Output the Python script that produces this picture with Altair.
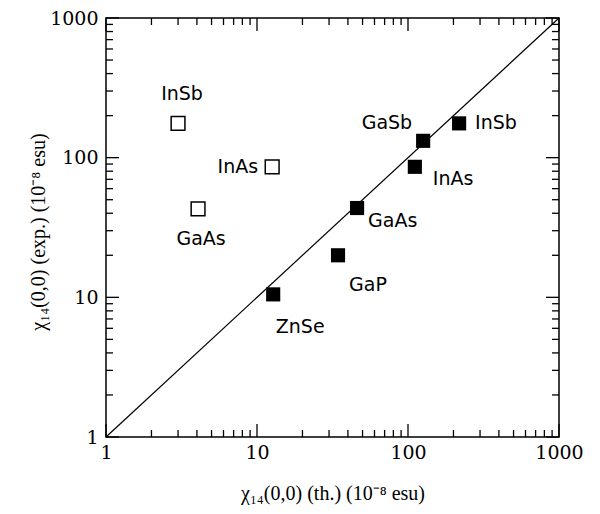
import altair as alt
import pandas as pd

# data
open_names = ["InSb", "InAs", "GaAs"]
open_th = [3.0, 12.6, 4.07]
open_exp = [176, 86, 43]

filled_names = ["InSb", "GaSb", "InAs", "GaAs", "GaP", "ZnSe"]
filled_th = [218, 126, 111, 46, 34.4, 12.8]
filled_exp = [176, 132, 86, 43.6, 20, 10.5]

line_x = [1, 1000]
line_y = [1, 1000]

major_ticks = [1, 10, 100, 1000]
minor_ticks = [m * d for d in [1, 10, 100] for m in range(2, 10)]
axis_lo, axis_hi = 1, 1000

W, H = 453, 419
MAJ, MIN = 13, 7
LABEL_FONT = "DejaVu Sans"
AX_FONT = "DejaVu Serif"
TITLE_FONT = "Liberation Serif"

df_open = pd.DataFrame({"name": open_names, "th": open_th, "exp": open_exp})
df_fill = pd.DataFrame({"name": filled_names, "th": filled_th, "exp": filled_exp})
df_line = pd.DataFrame({"th": line_x, "exp": line_y})

xs = alt.Scale(type="log", domain=[1, 1000], nice=False)
ys = alt.Scale(type="log", domain=[1, 1000], nice=False)

main = alt.Chart(df_line).mark_line(color="black", strokeWidth=1.2).encode(
    x=alt.X("th:Q", scale=xs, axis=alt.Axis(
        orient="bottom", values=major_ticks, format="d", ticks=False, domain=False, grid=False,
        labelFont=AX_FONT, labelFontSize=19, labelColor="black", labelPadding=6,
        title="χ₁₄(0,0) (th.) (10⁻⁸ esu)", titleFont=TITLE_FONT, titleFontSize=20,
        titleFontWeight="normal", titleColor="black", titleX=W / 2, titleY=46,
        labelFlush=False)),
    y=alt.Y("exp:Q", scale=ys, axis=alt.Axis(
        orient="left", values=major_ticks, format="d", ticks=False, domain=False, grid=False,
        labelFont=AX_FONT, labelFontSize=19, labelColor="black", labelPadding=8,
        title="χ₁₄(0,0) (exp.) (10⁻⁸ esu)", titleFont=TITLE_FONT, titleFontSize=20,
        titleFontWeight="normal", titleColor="black", titleX=-68, titleY=H / 2 + 4,
        titleBaseline="middle", labelFlush=False)),
)


def edge_ticks(values, length):
    """Inward tick marks drawn as stroked path symbols sitting on the frame edges."""
    n = len(values)
    sides = [
        (list(values), [axis_lo] * n, "M0,0V-2"),   # bottom, pointing up
        (list(values), [axis_hi] * n, "M0,0V2"),    # top, pointing down
        ([axis_lo] * n, list(values), "M0,0H2"),    # left, pointing right
        ([axis_hi] * n, list(values), "M0,0H-2"),   # right, pointing left
    ]
    out = []
    for tx, ty, shape in sides:
        d = pd.DataFrame({"th": tx, "exp": ty})
        out.append(
            alt.Chart(d).mark_point(shape=shape, size=length * length, filled=False,
                                    color="black", strokeWidth=1.3, opacity=1).encode(
                x=alt.X("th:Q", scale=xs),
                y=alt.Y("exp:Q", scale=ys),
            )
        )
    return out


ticks = edge_ticks(major_ticks, MAJ) + edge_ticks(minor_ticks, MIN)

filled = alt.Chart(df_fill).mark_square(color="black", opacity=1, size=200).encode(
    x=alt.X("th:Q", scale=xs),
    y=alt.Y("exp:Q", scale=ys),
)
opened = alt.Chart(df_open).mark_square(filled=False, color="black", strokeWidth=1.5, opacity=1, size=190).encode(
    x=alt.X("th:Q", scale=xs),
    y=alt.Y("exp:Q", scale=ys),
)

# label offsets (style): (align, dx, dy)
open_off = {
    "InSb": ("center", 4, -29),
    "InAs": ("right", -14, 0),
    "GaAs": ("center", 3, 30),
}
fill_off = {
    "InSb": ("left", 16, 0),
    "GaSb": ("right", -11, -18),
    "InAs": ("left", 18, 12),
    "GaAs": ("left", 11, 13),
    "GaP": ("center", 30, 30),
    "ZnSe": ("center", 27, 33),
}

texts = []
for df, offs in [(df_open, open_off), (df_fill, fill_off)]:
    for name, (al, dx, dy) in offs.items():
        sub = df[df["name"] == name]
        texts.append(
            alt.Chart(sub).mark_text(align=al, baseline="middle", dx=dx, dy=dy, font=LABEL_FONT,
                                     fontSize=19, color="black").encode(
                x=alt.X("th:Q", scale=xs),
                y=alt.Y("exp:Q", scale=ys),
                text="name:N",
            )
        )

chart = alt.layer(main, *ticks, opened, filled, *texts).properties(
    width=W, height=H,
    autosize=alt.AutoSizeParams(type="none"),
    padding={"left": 98, "top": 10, "right": 30, "bottom": 77},
    background="white",
).configure_view(stroke="black", strokeWidth=1.5)

chart.save("out.html", embed_options={"renderer": "svg", "actions": False})
